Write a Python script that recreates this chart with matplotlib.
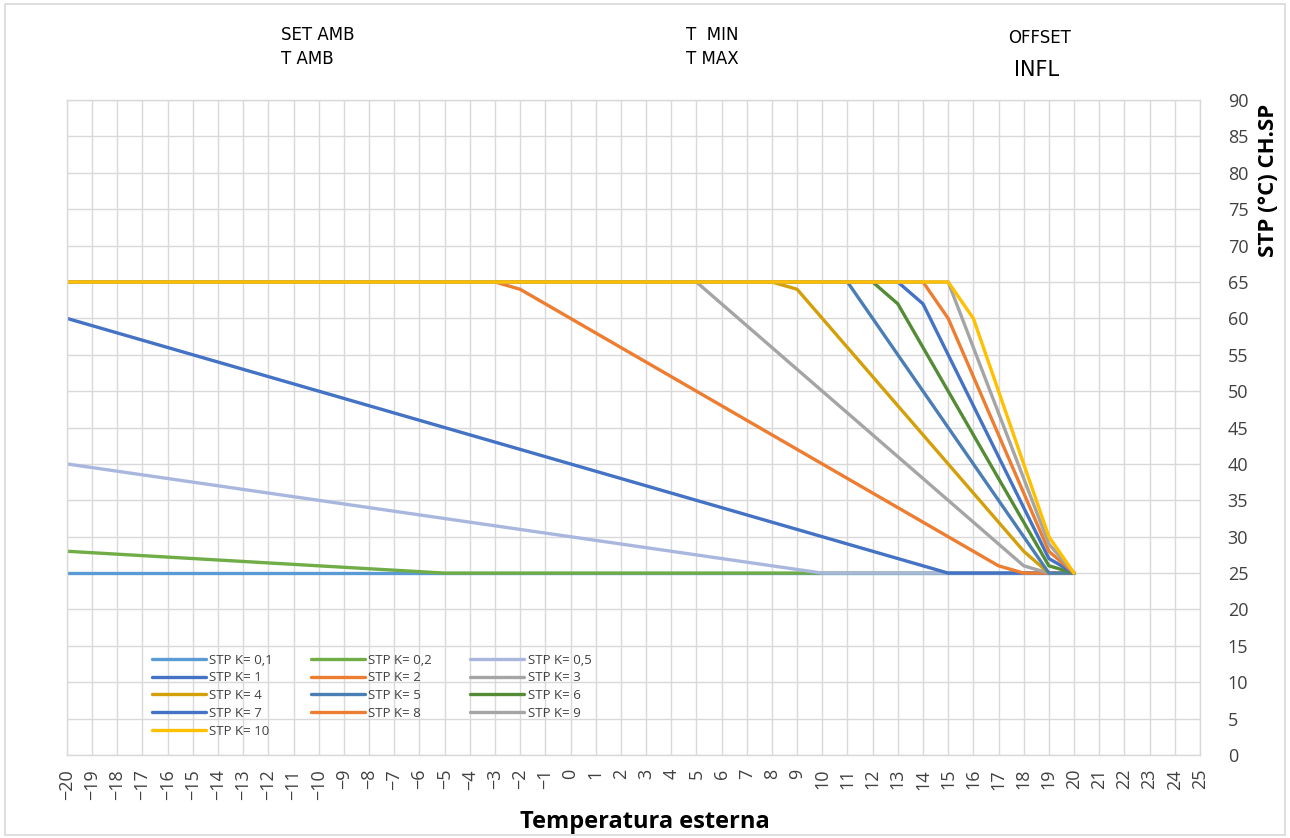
import numpy as np
import matplotlib
matplotlib.use('Agg')
import matplotlib.pyplot as plt
from matplotlib.patches import Rectangle

# outside temperature (x) from -20 to 20
t_ext = list(range(-20, 21))

# set points, one list per K curve
stp_01 = [25] * 41
stp_02 = [28, 27.8, 27.6, 27.4, 27.2, 27, 26.8, 26.6, 26.4, 26.2, 26, 25.8, 25.6, 25.4, 25.2, 25] + [25] * 25
stp_05 = [40, 39.5, 39, 38.5, 38, 37.5, 37, 36.5, 36, 35.5, 35, 34.5, 34, 33.5, 33, 32.5,
          32, 31.5, 31, 30.5, 30, 29.5, 29, 28.5, 28, 27.5, 27, 26.5, 26, 25.5, 25] + [25] * 10
stp_1 = [60, 59, 58, 57, 56, 55, 54, 53, 52, 51, 50, 49, 48, 47, 46, 45, 44, 43, 42, 41,
         40, 39, 38, 37, 36, 35, 34, 33, 32, 31, 30, 29, 28, 27, 26, 25] + [25] * 5
stp_2 = [65] * 18 + [64, 62, 60, 58, 56, 54, 52, 50, 48, 46, 44, 42, 40, 38, 36, 34, 32, 30, 28, 26] + [25] * 3
stp_3 = [65] * 26 + [62, 59, 56, 53, 50, 47, 44, 41, 38, 35, 32, 29, 26] + [25] * 2
stp_4 = [65] * 29 + [64, 60, 56, 52, 48, 44, 40, 36, 32, 28] + [25] * 2
stp_5 = [65] * 32 + [60, 55, 50, 45, 40, 35, 30, 25] + [25]
stp_6 = [65] * 33 + [62, 56, 50, 44, 38, 32, 26] + [25]
stp_7 = [65] * 34 + [62, 55, 48, 41, 34, 27] + [25]
stp_8 = [65] * 35 + [60, 52, 44, 36, 28] + [25]
stp_9 = [65] * 36 + [56, 47, 38, 29] + [25]
stp_10 = [65] * 36 + [60, 50, 40, 30] + [25]

labels = ['STP K= 0,1', 'STP K= 0,2', 'STP K= 0,5', 'STP K= 1', 'STP K= 2', 'STP K= 3',
          'STP K= 4', 'STP K= 5', 'STP K= 6', 'STP K= 7', 'STP K= 8', 'STP K= 9', 'STP K= 10']
series = [stp_01, stp_02, stp_05, stp_1, stp_2, stp_3, stp_4, stp_5, stp_6, stp_7, stp_8, stp_9, stp_10]
line_colors = ['#5B9BD5', '#70AD47', '#A9B7DF', '#4472C4', '#ED7D31', '#A5A5A5',
               '#D4A00A', '#4A7EB5', '#548C35', '#4472C4', '#ED7D31', '#A5A5A5', '#FFC000']

fig = plt.figure(figsize=(12.9, 8.38), dpi=100)
fig.patches.append(Rectangle((0.004, 0.004), 0.992, 0.991, transform=fig.transFigure,
                             fill=False, edgecolor='#D9D9D9', linewidth=1.2))
ax = fig.add_axes([0.0519, 0.0990, 0.8783, 0.7816])

handles = []
for ys, lab, c in zip(series, labels, line_colors):
    h, = ax.plot(t_ext, ys, color=c, linewidth=2.4, label=lab, solid_capstyle='round')
    handles.append(h)

ax.set_xlim(-20, 25)
ax.set_ylim(0, 90)
ax.set_xticks(range(-20, 26))
ax.set_yticks(range(0, 91, 5))
ax.yaxis.tick_right()
ax.tick_params(axis='both', length=0, labelsize=13, colors='#404040')
ax.tick_params(axis='x', labelrotation=90, pad=10)
ax.tick_params(axis='y', pad=20)
for lbl in ax.get_xticklabels() + ax.get_yticklabels():
    lbl.set_family('Open Sans')
ax.grid(True, color='#D9D9D9', linewidth=1.0)
ax.set_axisbelow(True)
for s in ax.spines.values():
    s.set_color('#D9D9D9')
    s.set_linewidth(1.0)

# legend filled row by row as in the original
order = [0, 3, 6, 9, 12, 1, 4, 7, 10, 2, 5, 8, 11]
leg = ax.legend([handles[i] for i in order], [labels[i] for i in order], ncol=3,
                loc='upper left', bbox_to_anchor=(0.070, 0.163), frameon=False,
                handlelength=4.1, handletextpad=0.25, columnspacing=2.9,
                labelspacing=0.36, borderaxespad=0,
                prop={'family': 'Open Sans', 'size': 9.5})
for t in leg.get_texts():
    t.set_color('#404040')

fig.text(645 / 1290, 1 - 822 / 838, 'Temperatura esterna', ha='center', va='center',
         fontsize=17, fontweight='bold', family='Open Sans')
fig.text(1268 / 1290, 1 - 180 / 838, 'STP (°C) CH.SP', ha='center', va='center',
         rotation=90, fontsize=16, fontweight='bold', family='Open Sans')

top_font = ['Liberation Sans Narrow', 'DejaVu Sans']
fig.text(281 / 1290, 1 - 35 / 838, 'SET AMB', ha='left', va='center', fontsize=12, family=top_font)
fig.text(281 / 1290, 1 - 59 / 838, 'T AMB', ha='left', va='center', fontsize=12, family=top_font)
fig.text(686 / 1290, 1 - 35 / 838, 'T  MIN', ha='left', va='center', fontsize=12, family=top_font)
fig.text(686 / 1290, 1 - 59 / 838, 'T MAX', ha='left', va='center', fontsize=12, family=top_font)
fig.text(1008 / 1290, 1 - 38 / 838, 'OFFSET', ha='left', va='center', fontsize=12, family=top_font)
fig.text(1014 / 1290, 1 - 70 / 838, 'INFL', ha='left', va='center', fontsize=15, family=top_font)

fig.savefig('out.png', dpi=100)
